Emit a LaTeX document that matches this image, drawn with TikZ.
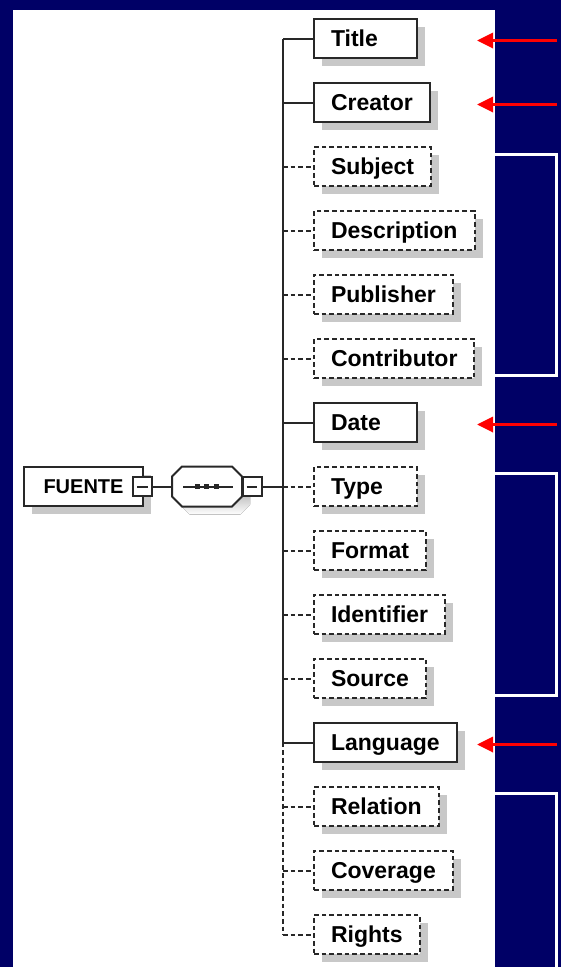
\documentclass[tikz,border=0pt]{standalone}
\usepackage{fontspec}
\setmainfont{Liberation Sans}
\usetikzlibrary{arrows.meta,shadows}

\definecolor{navy}{RGB}{0,0,102}
\definecolor{shade}{RGB}{200,200,200}
\definecolor{ink}{RGB}{40,40,40}

\newlength\elwd
\newcommand\eltext[1]{\settowidth\elwd{#1}%
  \ifdim\elwd<51.75pt\makebox[51.75pt][l]{#1}\else#1\fi}

\begin{document}
\begin{tikzpicture}[x=0.75pt,y=-0.75pt,line width=1.5pt]
  \tikzstyle{box}=[draw=ink,fill=white,anchor=west,inner xsep=12.75pt,inner ysep=0pt,
    minimum height=29.25pt,text height=12.4pt,text depth=0pt,
    font=\bfseries\fontsize{17.25}{20}\selectfont,
    general shadow={fill=shade,shadow xshift=6pt,shadow yshift=-6pt}]
  \tikzstyle{mand}=[box,minimum width=77.25pt]
  \tikzstyle{opt}=[mand,dash pattern=on 3.5pt off 2.25pt]
  \tikzstyle{mand-link}=[draw=ink]
  \tikzstyle{opt-link}=[draw=ink,dash pattern=on 3.5pt off 2.25pt]
  \tikzstyle{minus}=[draw=ink,fill=white,minimum size=14.25pt,inner sep=0pt,
    path picture={\draw[ink] ([xshift=-4pt]path picture bounding box.center)
      -- ([xshift=4pt]path picture bounding box.center);}]
  \tikzstyle{bracket}=[draw=white,line width=2.25pt]
  \tikzstyle{redarrow}=[draw=red,line width=2.5pt,-{Triangle[length=12pt,width=11.25pt]}]

  % background and panel
  \fill[navy] (0,0) rectangle (561,967);
  \fill[white] (13,9.5) rectangle (495,967);
  \useasboundingbox (0,0) rectangle (561,967);

  % brackets on the right
  \draw[bracket] (495,154.5) -| (556.5,375) -- (495,375);
  \draw[bracket] (495,473.5) -| (556.5,695) -- (495,695);
  \draw[bracket] (495,793.5) -| (556.5,967);

  % child elements
  \foreach \nm/\kind [count=\i from 0] in {Title/mand,Creator/mand,Subject/opt,
      Description/opt,Publisher/opt,Contributor/opt,Date/mand,Type/opt,Format/opt,
      Identifier/opt,Source/opt,Language/mand,Relation/opt,Coverage/opt,Rights/opt}{
    \coordinate (sp-\i) at (283,38.5+64*\i);
    \node[\kind] (\nm) at (313,38.5+64*\i) {\eltext{\nm}};
    \draw[\kind-link] (sp-\i) -- (\nm);
  }
  \draw[mand-link] (sp-0) -- (sp-11);
  \draw[opt-link] (sp-11) -- (sp-14);

  % root element and sequence
  \node[box,minimum width=89.25pt,font=\bfseries\fontsize{15}{18}\selectfont,
    text height=10.8pt] (fuente) at (23,486.5) {FUENTE};
  \node[minus] (fuente-min) at (142.5,486.5) {};
  \coordinate (seq-in) at (172,486.5);
  \fill[shade,shift={(8,8)}] (172,476.5) -- (182,466.5) -- (232,466.5) -- (242,476.5)
    -- (242,496.5) -- (232,506.5) -- (182,506.5) -- (172,496.5) -- cycle;
  \draw[ink,fill=white] (172,476.5) -- (182,466.5) -- (232,466.5) -- (242,476.5)
    -- (242,496.5) -- (232,506.5) -- (182,506.5) -- (172,496.5) -- cycle;
  \draw[ink] (183,486.5) -- (233,486.5);
  \foreach \d in {197,206.5,216}
    \fill[ink] (\d-2.5,484) rectangle (\d+2.5,489);
  \node[minus] (seq-min) at (252,486.5) {};
  \draw[mand-link] (fuente-min) -- (seq-in);
  \draw[mand-link] (seq-min) -- (sp-7);

  % red markers
  \foreach \i in {0,1,6,11}{
    \coordinate (tail-\i) at (557,40.5+64*\i);
    \coordinate (head-\i) at (477,40.5+64*\i);
    \draw[redarrow] (tail-\i) -- (head-\i);
  }
\end{tikzpicture}
\end{document}
